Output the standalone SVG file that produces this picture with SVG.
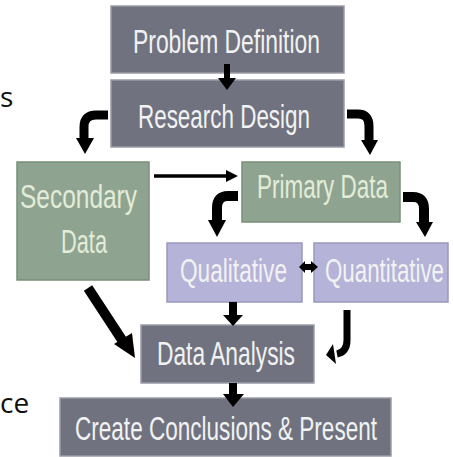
<svg xmlns="http://www.w3.org/2000/svg" width="453" height="457" viewBox="0 0 453 457">
<style>
.g{fill:#70737f;stroke:#9a9ca6;stroke-width:1.5}
.gr{fill:#8fa490;stroke:#788f7a;stroke-width:1.5}
.p{fill:#b5b3d7;stroke:#9a98bd;stroke-width:1.5}
.t{font-family:"Liberation Sans",Arial,sans-serif;font-size:23px;fill:#f2f2f2;text-anchor:start}
.tg{fill:#e3ecd8}
.side{font-family:"Open Sans","Liberation Sans",sans-serif;font-size:28px;fill:#111}
.s{fill:none;stroke:#000;stroke-linejoin:round}
.h{fill:#000}
</style>
<rect width="453" height="457" fill="#fff"/>
<text class="side" x="0" y="107">s</text>
<text class="side" x="0" y="413">ce</text>
<g id="problem-definition">
<rect class="g" x="111" y="6" width="233" height="67"/>
<text class="t" transform="translate(133,53) scale(1,1.45)" textLength="187" lengthAdjust="spacingAndGlyphs">Problem Definition</text>
</g>
<g id="research-design">
<rect class="g" x="111" y="80" width="233" height="67"/>
<text class="t" transform="translate(138,128) scale(1,1.45)" textLength="172" lengthAdjust="spacingAndGlyphs">Research Design</text>
</g>
<g id="secondary-data">
<rect class="gr" x="17" y="162" width="132" height="118"/>
<text class="t tg" transform="translate(20,208) scale(1,1.45)" textLength="117" lengthAdjust="spacingAndGlyphs">Secondary</text>
<text class="t tg" transform="translate(61,253) scale(1,1.45)" textLength="46" lengthAdjust="spacingAndGlyphs">Data</text>
</g>
<g id="primary-data">
<rect class="gr" x="242" y="162" width="158" height="60"/>
<text class="t tg" transform="translate(257,198) scale(1,1.45)" textLength="131" lengthAdjust="spacingAndGlyphs">Primary Data</text>
</g>
<g id="qualitative">
<rect class="p" x="167" y="243" width="135" height="59"/>
<text class="t" transform="translate(180,282) scale(1,1.45)" textLength="107" lengthAdjust="spacingAndGlyphs">Qualitative</text>
</g>
<g id="quantitative">
<rect class="p" x="314" y="243" width="134" height="59"/>
<text class="t" transform="translate(325,282) scale(1,1.45)" textLength="119" lengthAdjust="spacingAndGlyphs">Quantitative</text>
</g>
<g id="data-analysis">
<rect class="g" x="141" y="325" width="173" height="58"/>
<text class="t" transform="translate(157,365) scale(1,1.45)" textLength="138" lengthAdjust="spacingAndGlyphs">Data Analysis</text>
</g>
<g id="create-conclusions">
<rect class="g" x="60" y="398" width="331" height="58"/>
<text class="t" transform="translate(75,440) scale(1,1.45)" textLength="302" lengthAdjust="spacingAndGlyphs">Create Conclusions &amp; Present</text>
</g>
<g id="connectors">
<path class="s" d="M227,64 L227,80" stroke-width="6"/>
<polygon class="h" points="218,78 236,78 227,90"/>
<path class="s" d="M108,115 L96,115 Q84,115 84,127 L84,139" stroke-width="9"/>
<polygon class="h" points="76,138 94,138 85,154"/>
<path class="s" d="M347,114 L358,114 Q369,114 369,126 L369,141" stroke-width="9"/>
<polygon class="h" points="361,140 378,140 370,155"/>
<path class="s" d="M154,176 L228,176" stroke-width="3.5"/>
<polygon class="h" points="226,170 238,176 226,182"/>
<path class="s" d="M238,196 L228,196 Q217,196 217,208 L217,222" stroke-width="10"/>
<polygon class="h" points="208,220 226,220 217,237"/>
<path class="s" d="M403,197 L413,197 Q424,197 424,209 L424,223" stroke-width="10"/>
<polygon class="h" points="416,222 433,222 425,237"/>
<path class="s" d="M304,267 L312,267" stroke-width="6"/>
<polygon class="h" points="305,261 305,273 299,267"/>
<polygon class="h" points="311,261 311,273 318,267"/>
<path class="s" d="M88,288 L124,343" stroke-width="10"/>
<polygon class="h" points="114,344 132,333 135,358"/>
<path class="s" d="M233,302 L233,317" stroke-width="8"/>
<polygon class="h" points="223,315 243,315 233,326"/>
<path class="s" d="M347,310 L347,340 Q347,352 337,354" stroke-width="7"/>
<polygon class="h" points="333,344 336,364 326,355"/>
<path class="s" d="M233,383 L233,396" stroke-width="8"/>
<polygon class="h" points="223,394 244,394 233,407"/>
</g>
</svg>
